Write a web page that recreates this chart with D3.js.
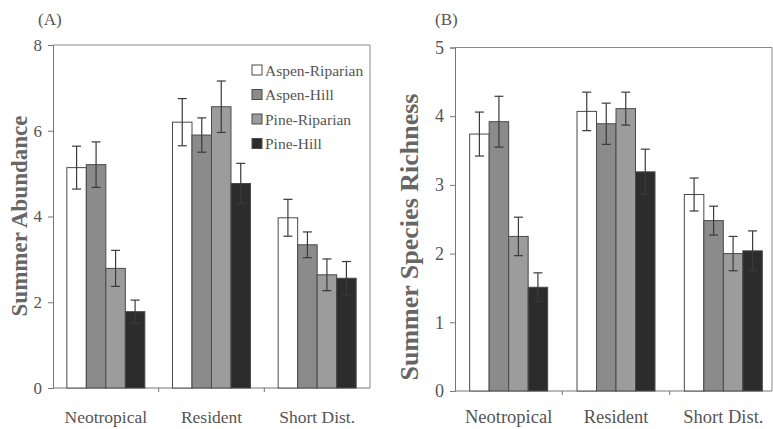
<!DOCTYPE html>
<html>
<head>
<meta charset="utf-8">
<script src="https://cdnjs.cloudflare.com/ajax/libs/d3/7.8.5/d3.min.js"></script>
<style>
  body { margin: 0; background: #fff; }
  svg { display: block; }
  text { font-family: "Liberation Serif", "Times New Roman", serif; }
</style>
</head>
<body>
<div id="chart-area"></div>
<script>
// categories and series
var categories = ["Neotropical", "Resident", "Short Dist."];
var series = ["Aspen-Riparian", "Aspen-Hill", "Pine-Riparian", "Pine-Hill"];

// (A) summer abundance, one array per series (by category)
var abundAR = [5.14, 6.20, 3.97];
var abundAH = [5.21, 5.90, 3.34];
var abundPR = [2.79, 6.56, 2.64];
var abundPH = [1.78, 4.77, 2.56];
var abundErrAR = [0.50, 0.55, 0.43];
var abundErrAH = [0.53, 0.40, 0.30];
var abundErrPR = [0.42, 0.60, 0.37];
var abundErrPH = [0.27, 0.47, 0.39];
var abundTicks = [0, 2, 4, 6, 8];

// (B) summer species richness
var richAR = [3.74, 4.07, 2.86];
var richAH = [3.92, 3.89, 2.48];
var richPR = [2.25, 4.11, 2.00];
var richPH = [1.51, 3.19, 2.04];
var richErrAR = [0.32, 0.28, 0.24];
var richErrAH = [0.37, 0.30, 0.21];
var richErrPR = [0.28, 0.24, 0.25];
var richErrPH = [0.21, 0.33, 0.29];
var richTicks = [0, 1, 2, 3, 4, 5];

var colors = ["#ffffff", "#8b8b8b", "#9c9c9c", "#2c2c2c"];

var svg = d3.select("#chart-area")
  .append("svg")
  .attr("width", 773)
  .attr("height", 429);

function buildRows(vals, errs) {
  var rows = [];
  categories.forEach((c, ci) => {
    series.forEach((s, si) => {
      rows.push({ cat: c, ser: s, si: si, value: vals[si][ci], err: errs[si][ci] });
    });
  });
  return rows;
}

function drawPanel(p) {
  var g = svg.append("g");

  var x0 = d3.scaleBand()
    .domain(categories)
    .range([p.left, p.bandRight])
    .padding(0);

  var x1 = d3.scaleBand()
    .domain(series)
    .range([0, p.groupWidth]);

  var off = (x0.bandwidth() - p.groupWidth) / 2;

  var y = d3.scaleLinear()
    .domain([0, p.max])
    .range([p.bottom, p.top]);

  // frame (top and right)
  g.append("path")
    .attr("d", `M${p.left},${p.top}H${p.right}V${p.bottom}`)
    .attr("fill", "none")
    .attr("stroke", "#8a8a8a")
    .attr("stroke-width", 1);

  // y axis
  var yAxis = g.append("g")
    .attr("transform", `translate(${p.left},0)`)
    .call(d3.axisLeft(y).tickValues(p.ticks).tickSize(5).tickPadding(6).tickFormat(d3.format("d")));
  yAxis.select(".domain").attr("stroke", "#777");
  yAxis.selectAll(".tick line").attr("stroke", "#777");
  yAxis.selectAll(".tick text")
    .attr("fill", "#555")
    .style("font-size", p.tickFont + "px")
    .style("font-family", "Liberation Serif, serif");

  // x axis: ticks at category boundaries
  var xAxis = g.append("g")
    .attr("transform", `translate(0,${p.bottom})`);
  xAxis.append("line")
    .attr("x1", p.left).attr("x2", p.right)
    .attr("stroke", "#777");
  xAxis.selectAll(".bt")
    .data(categories.slice(1))
    .enter().append("line")
    .attr("x1", d => x0(d)).attr("x2", d => x0(d))
    .attr("y1", 0).attr("y2", 4)
    .attr("stroke", "#777");
  xAxis.selectAll(".cl")
    .data(categories)
    .enter().append("text")
    .attr("x", d => x0(d) + x0.bandwidth() / 2)
    .attr("y", p.catY)
    .attr("text-anchor", "middle")
    .attr("fill", "#555")
    .style("font-size", p.catFont + "px")
    .text(d => d);

  // bars
  var rows = buildRows(p.vals, p.errs);
  g.selectAll("rect.bar")
    .data(rows)
    .enter().append("rect")
    .attr("class", "bar")
    .attr("x", d => x0(d.cat) + off + x1(d.ser))
    .attr("y", d => y(d.value))
    .attr("width", x1.bandwidth())
    .attr("height", d => y(0) - y(d.value))
    .attr("fill", d => colors[d.si])
    .attr("stroke", "#4a4a4a")
    .attr("stroke-width", 1);

  // error bars
  var eb = g.selectAll("g.err")
    .data(rows)
    .enter().append("g")
    .attr("class", "err")
    .attr("stroke", "#3a3a3a")
    .attr("stroke-width", 1.2);
  var cx = d => x0(d.cat) + off + x1(d.ser) + x1.bandwidth() / 2;
  eb.append("line")
    .attr("x1", cx).attr("x2", cx)
    .attr("y1", d => y(d.value - d.err))
    .attr("y2", d => y(d.value + d.err));
  eb.append("line")
    .attr("x1", d => cx(d) - 4.5).attr("x2", d => cx(d) + 4.5)
    .attr("y1", d => y(d.value + d.err))
    .attr("y2", d => y(d.value + d.err));
  eb.append("line")
    .attr("x1", d => cx(d) - 4.5).attr("x2", d => cx(d) + 4.5)
    .attr("y1", d => y(d.value - d.err))
    .attr("y2", d => y(d.value - d.err));

  // y label
  g.append("text")
    .attr("transform", `translate(${p.labelX},${p.labelY}) rotate(-90)`)
    .attr("text-anchor", "middle")
    .attr("fill", "#666")
    .attr("font-weight", "bold")
    .style("font-size", p.labelFont + "px")
    .text(p.label);

  // panel tag
  g.append("text")
    .attr("x", p.tagX)
    .attr("y", 25)
    .attr("fill", "#555")
    .style("font-size", "17px")
    .text(p.tag);

  return g;
}

var gA = drawPanel({
  tag: "(A)", tagX: 38,
  left: 53, right: 370, bandRight: 370, top: 45, bottom: 388,
  groupWidth: 78, max: 8, ticks: abundTicks,
  vals: [abundAR, abundAH, abundPR, abundPH],
  errs: [abundErrAR, abundErrAH, abundErrPR, abundErrPH],
  tickFont: 17, catFont: 17.5, catY: 35,
  label: "Summer Abundance", labelX: 27, labelY: 216, labelFont: 23
});

drawPanel({
  tag: "(B)", tagX: 435,
  left: 455, right: 772, bandRight: 777, top: 47.5, bottom: 391,
  groupWidth: 78, max: 5, ticks: richTicks,
  vals: [richAR, richAH, richPR, richPH],
  errs: [richErrAR, richErrAH, richErrPR, richErrPH],
  tickFont: 18, catFont: 18.5, catY: 32,
  label: "Summer Species Richness", labelX: 418, labelY: 237, labelFont: 26
});

// legend in panel A
var legend = gA.append("g")
  .attr("transform", "translate(252,0)");
var li = legend.selectAll("g")
  .data(series)
  .enter().append("g")
  .attr("transform", (d, i) => `translate(0,${70 + i * 24.5})`);
li.append("rect")
  .attr("x", 0).attr("y", -5)
  .attr("width", 10).attr("height", 10)
  .attr("fill", (d, i) => colors[i])
  .attr("stroke", "#4a4a4a");
li.append("text")
  .attr("x", 13)
  .attr("y", 5.5)
  .attr("fill", "#555")
  .style("font-size", "15.5px")
  .text(d => d);
</script>
</body>
</html>
